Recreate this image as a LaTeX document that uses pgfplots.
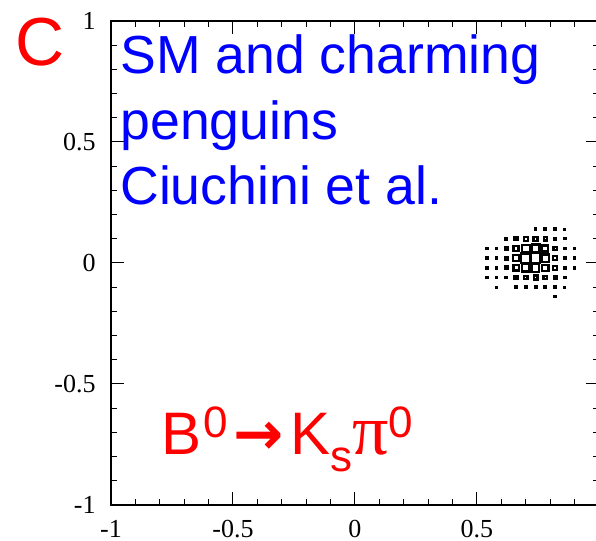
\documentclass[border=0pt]{standalone}
\usepackage{pgfplots}
\pgfplotsset{compat=1.18}
\usepackage{pgfplotstable}
\usepackage{fontspec}
\setmainfont{Liberation Serif}
\newfontfamily\arial{Liberation Sans}
\newfontfamily\arrowfont{DejaVu Sans}
\definecolor{labelred}{RGB}{255,0,0}
\definecolor{labelblue}{RGB}{0,0,255}

% 2D histogram of the fit (box representation): bin centre x, y and relative content w
\pgfplotstableread{
x     y      w
0.74  0.14   12
0.78  0.14   16
0.82  0.14   12
0.86  0.14   10
0.62  0.10   20
0.66  0.10   32
0.70  0.10   40
0.74  0.10   42
0.78  0.10   34
0.82  0.10   22
0.86  0.10   12
0.54  0.06   14
0.58  0.06   14
0.62  0.06   25
0.66  0.06   52
0.70  0.06   80
0.74  0.06   82
0.78  0.06   62
0.82  0.06   34
0.86  0.06   14
0.90  0.06   8
0.54  0.02   14
0.58  0.02   16
0.62  0.02   30
0.66  0.02   62
0.70  0.02   95
0.74  0.02   100
0.78  0.02   78
0.82  0.02   40
0.86  0.02   16
0.90  0.02   14
0.54  -0.02  14
0.58  -0.02  16
0.62  -0.02  28
0.66  -0.02  54
0.70  -0.02  78
0.74  -0.02  80
0.78  -0.02  66
0.82  -0.02  38
0.86  -0.02  16
0.90  -0.02  12
0.54  -0.06  14
0.58  -0.06  14
0.62  -0.06  16
0.66  -0.06  30
0.70  -0.06  37
0.74  -0.06  40
0.78  -0.06  37
0.82  -0.06  28
0.86  -0.06  14
0.58  -0.10  8
0.66  -0.10  14
0.70  -0.10  18
0.74  -0.10  18
0.78  -0.10  18
0.82  -0.10  14
0.86  -0.10  10
0.82  -0.14  10
}\boxdata

\begin{document}
\begin{tikzpicture}
\path[use as bounding box] (-55.5pt,-18pt) rectangle (242.5pt,252.5pt);
\begin{axis}[
  at={(0pt,0pt)}, anchor=south west,
  scale only axis, width=244pt, height=242pt,
  xmin=-1, xmax=1, ymin=-1, ymax=1,
  xtick={-1,-0.5,0,0.5,1}, xticklabels={-1,-0.5,0,0.5,},
  ytick={-1,-0.5,0,0.5,1}, yticklabels={-1,-0.5,0,0.5,1},
  minor tick num=4,
  tick align=inside,
  major tick length=6.5pt, minor tick length=3pt,
  every tick/.style={black, line width=0.5pt},
  axis line style={line width=0.7pt, black},
  tick label style={font=\fontsize{13}{15}\selectfont, inner sep=0pt},
  xticklabel shift=7.5pt, yticklabel shift=7.5pt,
]
\addplot[scatter, only marks, mark=square,
  scatter/use mapped color={draw=black, fill=none},
  visualization depends on={\thisrow{w}*0.024 \as \halfside},
  scatter/@pre marker code/.append style={/tikz/mark size=\halfside pt},
  mark options={line width=1.1pt, solid}]
  table[x=x, y=y] {\boxdata};
\end{axis}
\node[anchor=base west, inner sep=0pt, text=labelred,
  font=\arial\fontsize{34}{40}\selectfont] at (-47.7pt,219.5pt) {C};
\node[anchor=base west, inner sep=0pt, text=labelblue,
  font=\arial\fontsize{26.8}{32}\selectfont] at (4.5pt,215.5pt) {SM and charming};
\node[anchor=base west, inner sep=0pt, text=labelblue,
  font=\arial\fontsize{26.8}{32}\selectfont] at (4.5pt,182.5pt) {penguins};
\node[anchor=base west, inner sep=0pt, text=labelblue,
  font=\arial\fontsize{26.8}{32}\selectfont] at (4.5pt,150pt) {Ciuchini et al.};
\node[anchor=base west, inner sep=0pt, text=labelred,
  font=\arial\fontsize{30}{36}\selectfont] at (25pt,25pt)
  {B\hspace{1pt}\raisebox{8.5pt}{\fontsize{22}{22}\selectfont 0}\hspace{3pt}{\arrowfont\bfseries →}\hspace{3pt}K\raisebox{-8.5pt}{\fontsize{22}{22}\selectfont s}{\rmfamily\fontsize{36}{38}\selectfont π}\raisebox{8.5pt}{\fontsize{22}{22}\selectfont 0}};
\end{tikzpicture}
\end{document}
